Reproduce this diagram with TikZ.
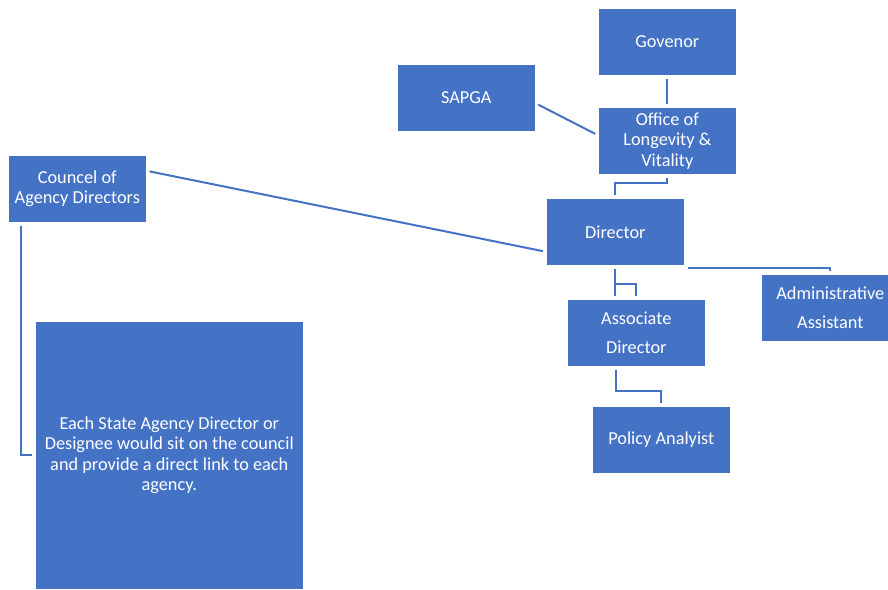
\documentclass[tikz,border=0pt]{standalone}
\usepackage{fontspec}
\setmainfont{Carlito}
\definecolor{orgblue}{HTML}{4472C4}

\begin{document}
\begin{tikzpicture}[
    x=1pt,y=-1pt,
    org box/.style={
      fill=orgblue,
      draw=white,
      line width=0.6pt,
      text=white,
      align=center,
      anchor=north west,
      inner sep=2pt,
      minimum width=138pt,
      minimum height=67pt,
      font=\fontsize{18.3}{20.5}\selectfont,
    },
    wide lines/.style={font=\fontsize{18.3}{29}\selectfont},
    org line/.style={
      draw=orgblue,
      line width=2pt,
      shorten <=3pt,
      shorten >=3pt,
    },
  ]
  \useasboundingbox (0,0) rectangle (888,589);
  \node[org box] (governor)  at (598,8)   {Govenor};
  \node[org box] (sapga)     at (397,64)  {SAPGA};
  \node[org box] (office)    at (598,107) {Office of\\Longevity \&\\Vitality};
  \node[org box] (council)   at (8,155)   {Councel of\\Agency Directors};
  \node[org box] (director)  at (546,198) {Director};
  \node[org box,wide lines] (admin)     at (761,274) {Administrative\\Assistant};
  \node[org box,wide lines] (associate) at (567,299) {Associate\\Director};
  \node[org box] (policy)    at (592,406) {Policy Analyist};
  \node[org box,minimum width=268pt,minimum height=268pt] (agencies) at (35,321)
    {Each State Agency Director or\\Designee would sit on the council\\and provide a direct link to each\\agency.};

  \path[org line] (governor) -- (office);
  \path[org line] ([yshift=-5.5pt]sapga.east) -- ([yshift=5.5pt]office.west);
  \path[org line] (office.south) -- ++(0,8) -| (director.north);
  \path[org line] ([yshift=18pt]council.east) -- ([yshift=-20pt]director.west);
  \path[org line] (director.south) -- (director.south |- associate.north);
  \path[org line,shorten <=0pt] ([yshift=-18pt]director.south) -| (associate.north);
  \path[org line] ([yshift=-2pt]director.south east) -| (admin.north);
  \path[org line] ([xshift=-20pt]associate.south) -- ++(0,24) -| (policy.north);
  \path[org line] ([xshift=13pt]council.south west) |- (agencies.west);
\end{tikzpicture}
\end{document}
